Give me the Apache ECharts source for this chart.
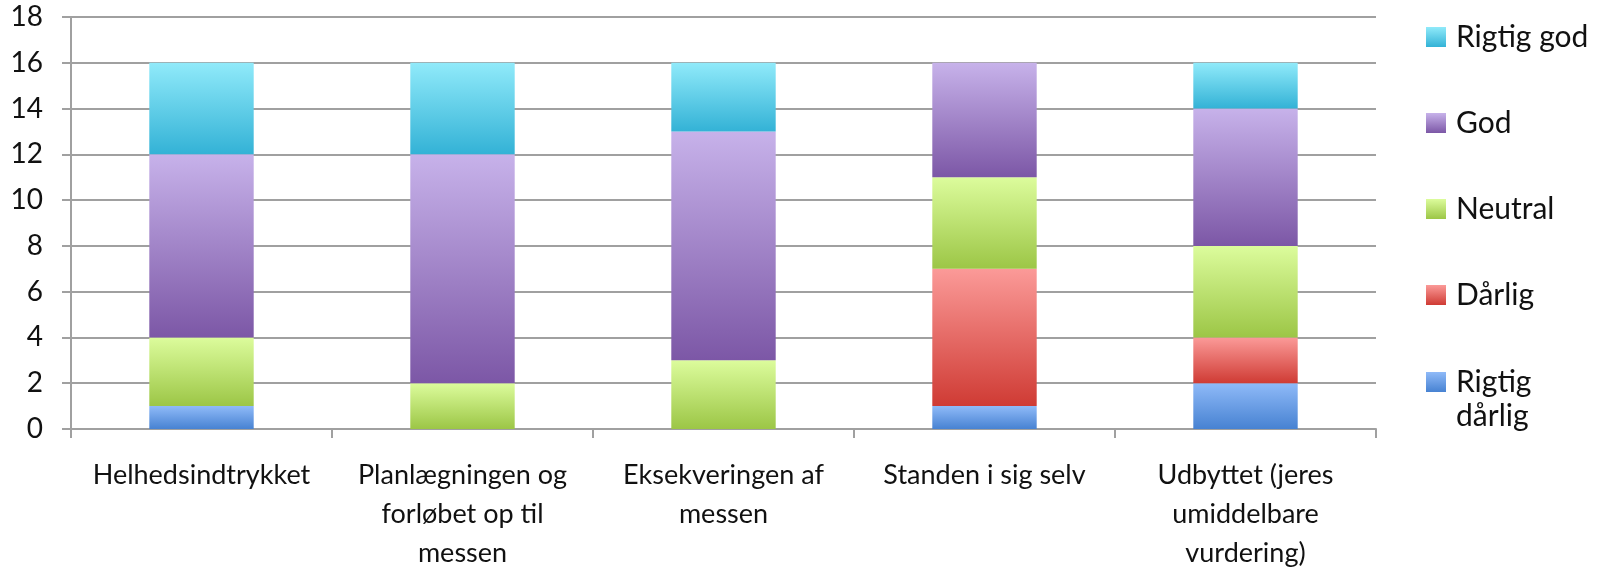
<!DOCTYPE html>
<html>
<head>
<meta charset="utf-8">
<script src="https://cdn.jsdelivr.net/npm/echarts@6/dist/echarts.min.js"></script>
<style>
  html, body { margin: 0; padding: 0; background: #fff; }
  #chart { width: 1606px; height: 573px; }
</style>
</head>
<body>
<div id="chart"></div>
<script>
// kategorier (x-akse)
var categories = [
    'Helhedsindtrykket',
    'Planlægningen og\nforløbet op til\nmessen',
    'Eksekveringen af\nmessen',
    'Standen i sig selv',
    'Udbyttet (jeres\numiddelbare\nvurdering)'
];
var yTicks = [0, 2, 4, 6, 8, 10, 12, 14, 16, 18];

// svar pr. kategori
var rigtigDarlig = [1, 0, 0, 1, 2];
var darlig       = [0, 0, 0, 6, 2];
var neutral      = [3, 2, 3, 4, 4];
var god          = [8, 10, 10, 5, 6];
var rigtigGod    = [4, 4, 3, 0, 2];

var seriesNames = ['Rigtig dårlig', 'Dårlig', 'Neutral', 'God', 'Rigtig god'];
var seriesData = [rigtigDarlig, darlig, neutral, god, rigtigGod];
// top / bund farve for hver serie
var colorTop = ['#8fbaf8', '#fb9a98', '#dcfc9c', '#c7b2ea', '#90eafa'];
var colorBot = ['#4782d2', '#cf3b34', '#9cc646', '#7c57a6', '#33b2d6'];

function grad(i) {
    return new echarts.graphic.LinearGradient(0, 0, 0, 1, [
        { offset: 0, color: colorTop[i] },
        { offset: 1, color: colorBot[i] }
    ]);
}

var fontFam = 'Lato, "Liberation Sans", sans-serif';
var myChart = echarts.init(document.getElementById('chart'), null, { renderer: 'canvas' });

var series = seriesNames.map(function (name, i) {
    return {
        name: name,
        type: 'bar',
        stack: 'total',
        barWidth: '40%',
        data: seriesData[i],
        itemStyle: { color: grad(i) }
    };
});

var legendText = {
    fontFamily: fontFam,
    fontSize: 30,
    lineHeight: 30,
    color: '#111',
    padding: [0, 0, 0, 5]
};

var option = {
    animation: false,
    backgroundColor: '#fff',
    grid: { left: 71, right: 230, top: 17, bottom: 138 },
    legend: [{
        orient: 'vertical',
        left: 1421,
        top: 17,
        icon: 'rect',
        itemWidth: 20,
        itemHeight: 20,
        itemGap: 56,
        selectedMode: false,
        data: ['Rigtig god', 'God', 'Neutral', 'Dårlig'],
        textStyle: legendText
    }, {
        // sidste punkt står på to linjer, første linje ud for ikonet
        orient: 'vertical',
        left: 1421,
        top: 326,
        icon: 'rect',
        itemWidth: 20,
        itemHeight: 20,
        selectedMode: false,
        data: ['Rigtig dårlig'],
        formatter: function () {
            return '\nRigtig\ndårlig';
        },
        textStyle: {
            fontFamily: fontFam,
            fontSize: 30,
            lineHeight: 34,
            color: '#111',
            padding: [0, 0, 0, 5]
        }
    }],
    xAxis: {
        type: 'category',
        data: categories,
        axisLine: { lineStyle: { color: '#a0a0a0', width: 2 } },
        axisTick: { show: true, length: 9, lineStyle: { color: '#a0a0a0', width: 2 } },
        axisLabel: {
            interval: 0,
            margin: 27,
            fontFamily: fontFam,
            fontSize: 27,
            lineHeight: 39,
            color: '#111'
        }
    },
    yAxis: {
        type: 'value',
        min: 0,
        max: yTicks[yTicks.length - 1],
        interval: yTicks[1] - yTicks[0],
        axisLine: { show: true, lineStyle: { color: '#a0a0a0', width: 2 } },
        axisTick: { show: true, length: 9, lineStyle: { color: '#a0a0a0', width: 2 } },
        splitLine: { lineStyle: { color: '#a0a0a0', width: 2 } },
        axisLabel: {
            margin: 28,
            fontFamily: fontFam,
            fontSize: 28,
            color: '#111'
        }
    },
    series: series
};

myChart.setOption(option);
</script>
</body>
</html>
